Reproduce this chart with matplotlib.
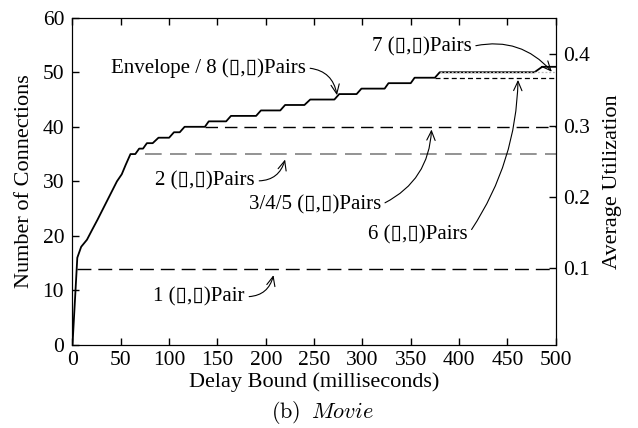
import matplotlib
matplotlib.use("Agg")
import matplotlib.pyplot as plt

plt.rcParams['font.family'] = ['Liberation Serif', 'DejaVu Sans']
plt.rcParams['mathtext.fontset'] = 'cm'

# envelope curve (delay bound in ms, number of connections)
env_x = [0, 5, 9, 15, 20, 26, 30, 36, 46, 51, 55, 60, 65, 69, 73, 77, 83, 89, 100,
         105, 111, 116, 137, 141, 159, 164, 190, 195, 215, 220, 240, 246, 271, 276,
         294, 299, 323, 327, 350, 354, 375, 380, 478, 486, 500]
env_y = [0, 16, 18, 19.3, 21, 23, 24.4, 26.5, 30, 31.3, 33, 35, 35, 36, 36, 37, 37, 38, 38,
         39, 39, 40, 40, 41, 41, 42, 42, 43, 43, 44, 44, 45, 45, 46,
         46, 47, 47, 48, 48, 49, 49, 50, 50, 51, 51]

# flat levels for fixed numbers of (s,r) pairs
one_pair_start, one_pair_level = 5, 14
two_pair_start, two_pair_level = 75, 35
three_pair_start, three_pair_level = 137, 40
six_pair_start, six_pair_level = 375, 49
seven_pair_start, seven_pair_level = 380, 50

util_ticks = [0.1, 0.2, 0.3, 0.4]
util_labels = ["0.1", "0.2", "0.3", "0.4"]

fig = plt.figure(figsize=(6.38, 4.28), dpi=100)
ax = fig.add_axes([0.1136, 0.194, 0.7574, 0.7646])

ax.plot(env_x, env_y, color='black', lw=1.3)
ax.plot([one_pair_start, 500], [one_pair_level] * 2, color='black', lw=1, dashes=(10, 5))
ax.plot([two_pair_start, 500], [two_pair_level] * 2, color='#808080', lw=1.2, dashes=(10, 5))
ax.plot([three_pair_start, 500], [three_pair_level] * 2, color='black', lw=1, dashes=(9, 5))
ax.plot([six_pair_start, 500], [six_pair_level] * 2, color='black', lw=0.9, dashes=(4, 2.5))
ax.plot([seven_pair_start, 500], [seven_pair_level] * 2, color='#bbbbbb', lw=0.9, dashes=(1.5, 1.5))

ax.set_xlim(0, 500)
ax.set_ylim(0, 60)
ax.set_xticks(range(0, 501, 50))
ax.set_yticks(range(0, 61, 10))
ax.tick_params(axis='both', direction='in', labelsize=15.5, length=5, width=1)
ax.tick_params(axis='x', top=True, pad=4)
ax.tick_params(axis='y', pad=6)
ax.set_xlabel("Delay Bound (milliseconds)", fontsize=16, labelpad=2)
ax.set_ylabel("Number of Connections", fontsize=16, labelpad=6)

ax2 = ax.twinx()
ax2.set_ylim(-0.0074, 0.451)
ax2.set_yticks(util_ticks)
ax2.set_yticklabels(util_labels)
ax2.tick_params(axis='y', direction='in', labelsize=15.5, length=5, width=1, pad=5)
ax2.set_ylabel("Average Utilization", fontsize=16, labelpad=10)

arrow = dict(arrowstyle='->, head_length=0.45, head_width=0.2', color='black',
             lw=0.8, relpos=(1, 0.5), shrinkA=1, shrinkB=0)

notes = [
    ("Envelope / 8 (\u25af,\u25af)Pairs", (241.6, 50.8), (273.7, 45.8), -0.4),
    ("7 (\u25af,\u25af)Pairs", (413.1, 54.7), (496, 50.1), -0.3),
    ("2 (\u25af,\u25af)Pairs", (188.9, 30.1), (220, 34.0), 0.4),
    ("3/4/5 (\u25af,\u25af)Pairs", (319.2, 25.7), (371.5, 39.5), 0.3),
    ("6 (\u25af,\u25af)Pairs", (409.3, 20.2), (461, 48.6), 0.15),
    ("1 (\u25af,\u25af)Pair", (178.5, 8.85), (208, 12.8), 0.4),
]
for label, txt, tip, rad in notes:
    props = dict(arrow, connectionstyle='arc3,rad=%s' % rad)
    ax.annotate(label, xy=tip, xytext=txt, ha='right', va='center',
                fontsize=15, arrowprops=props)

fig.text(0.505, 0.037, r"$\mathrm{(b)}\;\; Movie$", ha='center', va='center', fontsize=16)

fig.savefig("out.png", dpi=100)
